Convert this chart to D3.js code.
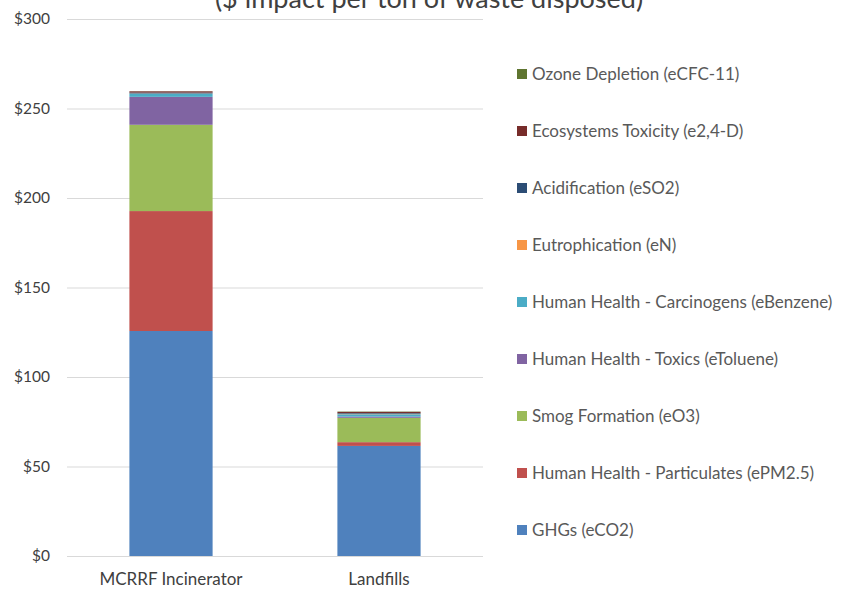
<!DOCTYPE html>
<html>
<head>
<meta charset="utf-8">
<style>
  body { margin: 0; background: #fff; }
  svg text { font-family: Lato, "Open Sans", sans-serif; }
  .grid line { stroke: #d9d9d9; stroke-width: 1px; }
  .grid .domain { display: none; }
</style>
</head>
<body>
<svg width="859" height="589"></svg>
<script src="https://d3js.org/d3.v7.min.js"></script>
<script>
// categories and series (bottom of the stack first)
var categories = ["MCRRF Incinerator", "Landfills"];
var seriesNames = [
  "GHGs (eCO2)",
  "Human Health - Particulates (ePM2.5)",
  "Smog Formation (eO3)",
  "Human Health - Toxics (eToluene)",
  "Human Health - Carcinogens (eBenzene)",
  "Eutrophication (eN)",
  "Acidification (eSO2)",
  "Ecosystems Toxicity (e2,4-D)",
  "Ozone Depletion (eCFC-11)"
];
var incinerator = [125.7, 67.0, 48.2, 15.6, 1.8, 0.1, 0.5, 0.7, 0.05];
var landfills   = [61.5, 2.1, 13.6, 0.7, 1.3, 0.3, 0.4, 0.6, 0.2];
var colors = ["#4f81bd", "#c0504d", "#9bbb59", "#8064a2", "#4bacc6", "#f79646", "#2c4d75", "#772c2a", "#5f7530"];
var yTicks = [0, 50, 100, 150, 200, 250, 300];
var title = "($ impact per ton of waste disposed)";

var svg = d3.select("svg"),
    margin = {top: 19, right: 376, bottom: 33, left: 67},
    width = +svg.attr("width") - margin.left - margin.right,
    height = +svg.attr("height") - margin.top - margin.bottom;

var rows = categories.map(function(c, i) {
  var row = {category: c};
  var vals = i === 0 ? incinerator : landfills;
  seriesNames.forEach(function(s, j) { row[s] = vals[j]; });
  return row;
});

var x = d3.scaleBand().domain(categories).range([0, width]).paddingInner(0.6).paddingOuter(0.3),
    y = d3.scaleLinear().domain([0, 300]).range([height, 0]),
    color = d3.scaleOrdinal().domain(seriesNames).range(colors);

var g = svg.append("g")
    .attr("transform", "translate(" + margin.left + "," + margin.top + ")");

// title, cut off at the top of the picture like the original
svg.append("text")
    .attr("x", 429)
    .attr("y", 7.5)
    .attr("text-anchor", "middle")
    .style("font-size", "27px")
    .style("fill", "#404040")
    .text(title);

// gridlines
g.append("g")
    .attr("class", "grid")
    .call(d3.axisLeft(y).tickValues(yTicks).tickSize(-width).tickFormat(""));

// y labels
g.append("g")
    .call(d3.axisLeft(y).tickValues(yTicks).tickSize(0).tickPadding(17).tickFormat(function(d) { return "$" + d; }))
    .call(function(a) { a.select(".domain").remove(); })
    .selectAll("text")
    .style("font-size", "15.5px")
    .style("fill", "#404040")
    .style("font-family", "Lato, sans-serif");

var stack = d3.stack().keys(seriesNames)(rows);

g.selectAll(".layer")
  .data(stack)
  .enter().append("g")
    .attr("class", "layer")
    .attr("fill", function(d) { return color(d.key); })
  .selectAll("rect")
  .data(function(d) { return d; })
  .enter().append("rect")
    .attr("x", function(d) { return x(d.data.category); })
    .attr("width", x.bandwidth())
    .attr("y", function(d) { return y(d[1]); })
    .attr("height", function(d) { return y(d[0]) - y(d[1]); });

// x labels
g.append("g")
    .attr("transform", "translate(0," + height + ")")
    .call(d3.axisBottom(x).tickSize(0).tickPadding(17))
    .call(function(a) { a.select(".domain").remove(); })
    .selectAll("text")
    .style("font-size", "17px")
    .style("fill", "#404040")
    .style("font-family", "Lato, sans-serif");

// legend, last series on top
var legend = svg.append("g")
    .attr("transform", "translate(517,74)");

var items = legend.selectAll(".item")
  .data(seriesNames.slice().reverse())
  .enter().append("g")
    .attr("class", "item")
    .attr("transform", function(d, i) { return "translate(0," + (i * 57) + ")"; });

items.append("rect")
    .attr("y", -5)
    .attr("width", 10)
    .attr("height", 10)
    .attr("fill", function(d) { return color(d); });

items.append("text")
    .attr("x", 15)
    .attr("dy", "0.35em")
    .style("font-size", "17px")
    .style("fill", "#595959")
    .text(function(d) { return d; });
</script>
</body>
</html>
